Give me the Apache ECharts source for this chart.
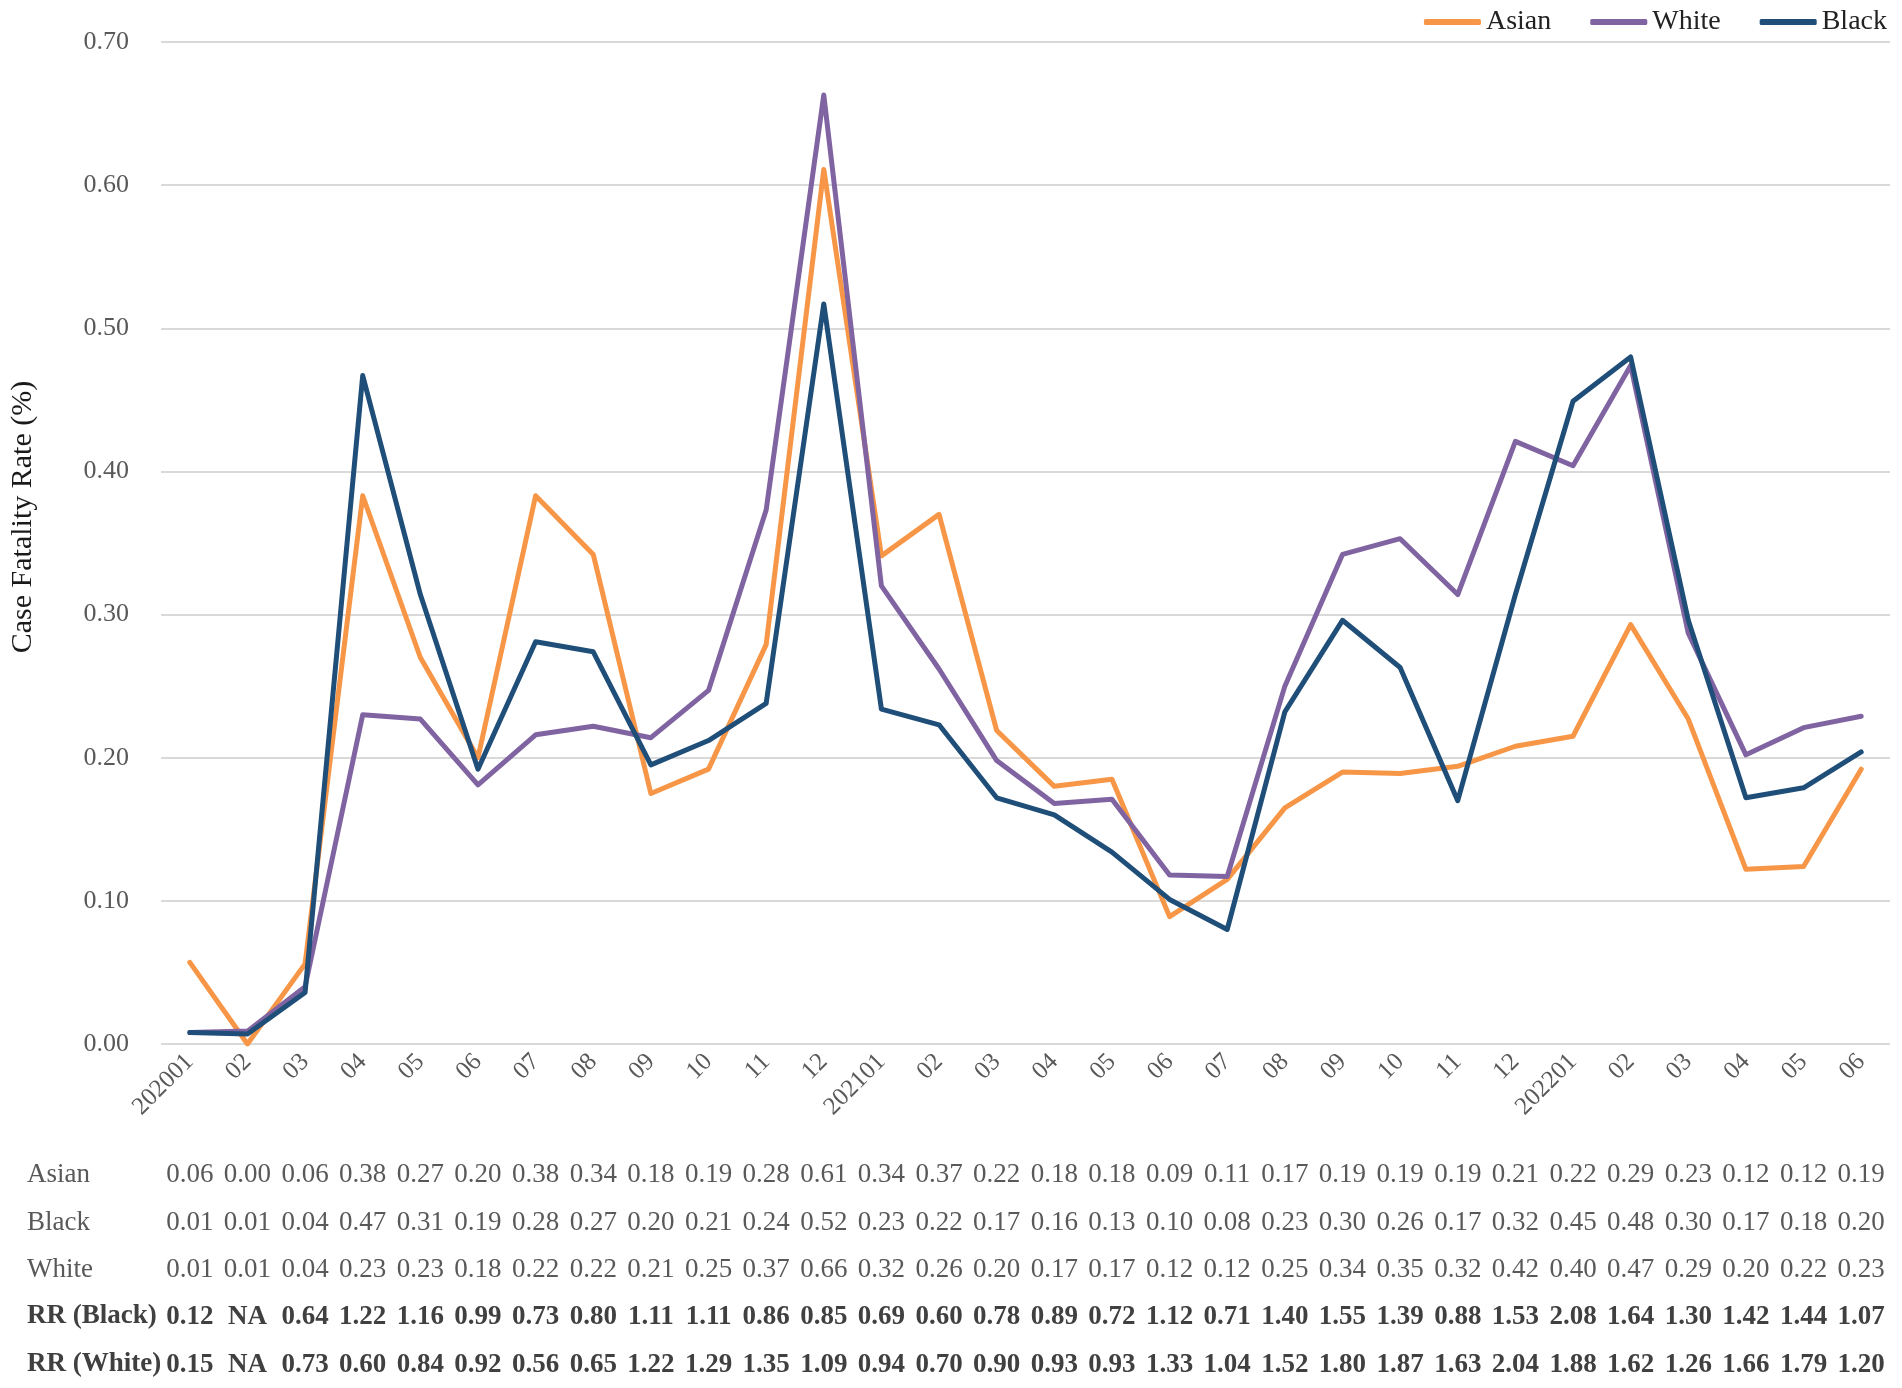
<!DOCTYPE html>
<html>
<head>
<meta charset="utf-8">
<script src="https://cdn.jsdelivr.net/npm/echarts@6/dist/echarts.min.js"></script>
<style>
  html, body { margin: 0; padding: 0; background: #fff; }
  #chart { width: 1902px; height: 1388px; }
</style>
</head>
<body>
<div id="chart"></div>
<script>
// month labels on the x axis
const months = ['202001', '02', '03', '04', '05', '06', '07', '08', '09', '10', '11', '12',
  '202101', '02', '03', '04', '05', '06', '07', '08', '09', '10', '11', '12',
  '202201', '02', '03', '04', '05', '06'];

// line values
const asian = [0.057, 0.000, 0.056, 0.383, 0.270, 0.200, 0.383, 0.342, 0.175, 0.192, 0.279, 0.611,
  0.341, 0.370, 0.219, 0.180, 0.185, 0.089, 0.115, 0.165, 0.190, 0.189, 0.194, 0.208,
  0.215, 0.293, 0.227, 0.122, 0.124, 0.192];
const white = [0.008, 0.009, 0.040, 0.230, 0.227, 0.181, 0.216, 0.222, 0.214, 0.247, 0.373, 0.663,
  0.320, 0.262, 0.198, 0.168, 0.171, 0.118, 0.117, 0.250, 0.342, 0.353, 0.314, 0.421,
  0.404, 0.474, 0.287, 0.202, 0.221, 0.229];
const black = [0.008, 0.007, 0.036, 0.467, 0.314, 0.192, 0.281, 0.274, 0.195, 0.212, 0.238, 0.517,
  0.234, 0.223, 0.172, 0.160, 0.134, 0.101, 0.080, 0.232, 0.296, 0.263, 0.170, 0.314,
  0.449, 0.480, 0.296, 0.172, 0.179, 0.204];

// table under the chart
const tableAsian = ['0.06', '0.00', '0.06', '0.38', '0.27', '0.20', '0.38', '0.34', '0.18', '0.19', '0.28', '0.61', '0.34', '0.37', '0.22', '0.18', '0.18', '0.09', '0.11', '0.17', '0.19', '0.19', '0.19', '0.21', '0.22', '0.29', '0.23', '0.12', '0.12', '0.19'];
const tableBlack = ['0.01', '0.01', '0.04', '0.47', '0.31', '0.19', '0.28', '0.27', '0.20', '0.21', '0.24', '0.52', '0.23', '0.22', '0.17', '0.16', '0.13', '0.10', '0.08', '0.23', '0.30', '0.26', '0.17', '0.32', '0.45', '0.48', '0.30', '0.17', '0.18', '0.20'];
const tableWhite = ['0.01', '0.01', '0.04', '0.23', '0.23', '0.18', '0.22', '0.22', '0.21', '0.25', '0.37', '0.66', '0.32', '0.26', '0.20', '0.17', '0.17', '0.12', '0.12', '0.25', '0.34', '0.35', '0.32', '0.42', '0.40', '0.47', '0.29', '0.20', '0.22', '0.23'];
const rrBlack = ['0.12', 'NA', '0.64', '1.22', '1.16', '0.99', '0.73', '0.80', '1.11', '1.11', '0.86', '0.85', '0.69', '0.60', '0.78', '0.89', '0.72', '1.12', '0.71', '1.40', '1.55', '1.39', '0.88', '1.53', '2.08', '1.64', '1.30', '1.42', '1.44', '1.07'];
const rrWhite = ['0.15', 'NA', '0.73', '0.60', '0.84', '0.92', '0.56', '0.65', '1.22', '1.29', '1.35', '1.09', '0.94', '0.70', '0.90', '0.93', '0.93', '1.33', '1.04', '1.52', '1.80', '1.87', '1.63', '2.04', '1.88', '1.62', '1.26', '1.66', '1.79', '1.20'];

const yTicks = [0, 0.7, 0.1];  // min, max, interval

const FONT = '"Liberation Serif", "Times New Roman", serif';
const TABLE_SIZE = 27;

const tableRows = [
  { name: 'Asian', data: tableAsian, bold: false, offset: 131 },
  { name: 'Black', data: tableBlack, bold: false, offset: 179 },
  { name: 'White', data: tableWhite, bold: false, offset: 226 },
  { name: 'RR (Black)', data: rrBlack, bold: true, offset: 273 },
  { name: 'RR (White)', data: rrWhite, bold: true, offset: 321 }
];

const chart = echarts.init(document.getElementById('chart'));

const xAxes = [{
  type: 'category',
  data: months,
  boundaryGap: true,
  axisLine: { show: false },
  axisTick: { show: false },
  axisLabel: {
    interval: 0,
    rotate: 45,
    margin: 14,
    color: '#595959',
    fontFamily: FONT,
    fontSize: 25
  }
}];

// one hidden axis per table row, so the numbers sit under each month
tableRows.forEach(function (row) {
  xAxes.push({
    type: 'category',
    data: row.data,
    gridIndex: 0,
    position: 'bottom',
    offset: row.offset,
    axisLine: { show: false },
    axisTick: { show: false },
    splitLine: { show: false },
    axisLabel: {
      interval: 0,
      margin: 0,
      verticalAlign: 'middle',
      color: row.bold ? '#404040' : '#595959',
      fontWeight: row.bold ? 'bold' : 'normal',
      fontFamily: FONT,
      fontSize: TABLE_SIZE
    }
  });
});

const option = {
  backgroundColor: '#fff',
  animation: false,
  textStyle: { fontFamily: FONT },
  legend: {
    right: 10,
    top: 3,
    icon: 'roundRect',
    itemWidth: 57,
    itemHeight: 6,
    itemGap: 39,
    textStyle: { fontFamily: FONT, fontSize: 28, color: '#222' },
    data: ['Asian', 'White', 'Black']
  },
  grid: { left: 160, right: 12, top: 42, bottom: 344 },
  xAxis: xAxes,
  yAxis: {
    type: 'value',
    min: yTicks[0],
    max: yTicks[1],
    interval: yTicks[2],
    name: 'Case Fatality Rate (%)',
    nameLocation: 'middle',
    nameGap: 123,
    nameTextStyle: { fontFamily: FONT, fontSize: 30, color: '#1a1a1a', padding: [0, 0, 0, 52] },
    axisLine: { show: false },
    axisTick: { show: false },
    axisLabel: {
      margin: 32,
      color: '#595959',
      fontFamily: FONT,
      fontSize: 26,
      formatter: function (v) { return v.toFixed(2); }
    },
    splitLine: { lineStyle: { color: '#d9d9d9', width: 2 } }
  },
  graphic: tableRows.map(function (row) {
    return {
      type: 'text',
      left: 27,
      top: 1044 + row.offset - 14,
      style: {
        text: row.name,
        fill: row.bold ? '#404040' : '#595959',
        font: (row.bold ? 'bold ' : '') + TABLE_SIZE + 'px ' + FONT
      }
    };
  }),
  series: [
    { name: 'Asian', type: 'line', data: asian, color: '#F79646' },
    { name: 'White', type: 'line', data: white, color: '#8064A2' },
    { name: 'Black', type: 'line', data: black, color: '#1F4E79' }
  ].map(function (s) {
    return Object.assign(s, {
      xAxisIndex: 0,
      symbol: 'none',
      lineStyle: { width: 5, color: s.color, cap: 'round', join: 'round' },
      itemStyle: { color: s.color },
      emphasis: { disabled: true }
    });
  })
};

chart.setOption(option);
</script>
</body>
</html>
